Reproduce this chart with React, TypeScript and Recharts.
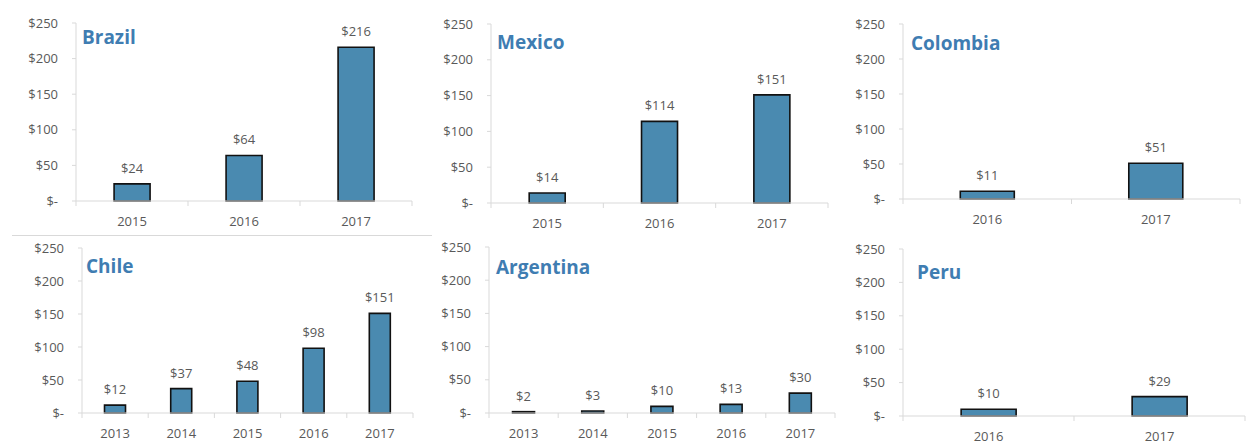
import { Bar, BarChart, LabelList, XAxis, YAxis } from "recharts";

const brazilYears = ["2015", "2016", "2017"];
const brazilValues = [24, 64, 216];
const mexicoYears = ["2015", "2016", "2017"];
const mexicoValues = [14, 114, 151];
const colombiaYears = ["2016", "2017"];
const colombiaValues = [11, 51];
const chileYears = ["2013", "2014", "2015", "2016", "2017"];
const chileValues = [12, 37, 48, 98, 151];
const argentinaYears = ["2013", "2014", "2015", "2016", "2017"];
const argentinaValues = [2, 3, 10, 13, 30];
const peruYears = ["2016", "2017"];
const peruValues = [10, 29];
const yTicks = [0, 50, 100, 150, 200, 250];

const FONT = "'Open Sans', sans-serif";
const TEXT = "#595959";
const AXIS = "#d9d9d9";
const BAR = "#4a8ab0";
const TITLE = "#3f7db2";

const Y_W = 60;
const TOP_PAD = 14;
const RIGHT_PAD = 6;
const BOTTOM_H = 32;

const money = (v: number) => (v === 0 ? "$-" : `$${v}`);

function YearTick(props: any) {
  const { x, y, payload, index, band, last } = props;
  return (
    <g>
      <line x1={x - band / 2} x2={x - band / 2} y1={y} y2={y + 5} stroke={AXIS} />
      {index === last && <line x1={x + band / 2} x2={x + band / 2} y1={y} y2={y + 5} stroke={AXIS} />}
      <text x={x} y={y + 25} textAnchor="middle" fill={TEXT} fontSize={13} fontFamily={FONT}>
        {payload.value}
      </text>
    </g>
  );
}

type PanelProps = {
  title: string;
  years: string[];
  values: number[];
  x0: number;
  x1: number;
  yTop: number;
  yBottom: number;
  titleX: number;
  titleY: number;
};

function Panel({ title, years, values, x0, x1, yTop, yBottom, titleX, titleY }: PanelProps) {
  const data = years.map((year, i) => ({ year, value: values[i] }));
  const band = (x1 - x0) / years.length;
  const width = x1 - x0 + Y_W + RIGHT_PAD;
  const height = yBottom - yTop + TOP_PAD + BOTTOM_H;
  return (
    <>
      <div style={{ position: "absolute", left: x0 - Y_W, top: yTop - TOP_PAD }}>
        <BarChart
          width={width}
          height={height}
          data={data}
          margin={{ top: TOP_PAD, right: RIGHT_PAD, bottom: 0, left: 0 }}
          barCategoryGap="34%"
        >
          <XAxis
            dataKey="year"
            height={BOTTOM_H}
            interval={0}
            axisLine={{ stroke: AXIS }}
            tickLine={false}
            tickSize={0}
            tickMargin={0}
            tick={<YearTick band={band} last={years.length - 1} />}
          />
          <YAxis
            width={Y_W}
            domain={[0, 250]}
            ticks={yTicks}
            interval={0}
            axisLine={{ stroke: AXIS }}
            tickLine={{ stroke: AXIS }}
            tickSize={4}
            tickMargin={14}
            tickFormatter={money}
            tick={{ fill: TEXT, fontSize: 13, fontFamily: FONT }}
          />
          <Bar dataKey="value" fill={BAR} stroke="#111" strokeWidth={1.6} isAnimationActive={false}>
            <LabelList
              dataKey="value"
              position="top"
              offset={11}
              formatter={(v: any) => `$${v}`}
              fill={TEXT}
              fontSize={13}
              fontFamily={FONT}
            />
          </Bar>
        </BarChart>
      </div>
      <div
        style={{
          position: "absolute",
          left: titleX,
          top: titleY - 13,
          lineHeight: "26px",
          fontFamily: FONT,
          fontWeight: 700,
          fontSize: 19,
          color: TITLE,
        }}
      >
        {title}
      </div>
    </>
  );
}

export default function App() {
  return (
    <div style={{ position: "absolute", left: 0, top: 0, width: 1249, height: 443, background: "#fff" }}>
      <div style={{ position: "absolute", left: 12, top: 235, width: 420, height: 1, background: AXIS }} />
      <Panel title="Brazil" years={brazilYears} values={brazilValues} x0={76} x1={412} yTop={23} yBottom={201} titleX={82} titleY={37} />
      <Panel title="Mexico" years={mexicoYears} values={mexicoValues} x0={491} x1={828} yTop={24} yBottom={203} titleX={497} titleY={42} />
      <Panel title="Colombia" years={colombiaYears} values={colombiaValues} x0={903} x1={1240} yTop={24} yBottom={199} titleX={911} titleY={43} />
      <Panel title="Chile" years={chileYears} values={chileValues} x0={82} x1={413} yTop={248} yBottom={413} titleX={86} titleY={266} />
      <Panel title="Argentina" years={argentinaYears} values={argentinaValues} x0={489} x1={835} yTop={247} yBottom={413} titleX={496} titleY={267} />
      <Panel title="Peru" years={peruYears} values={peruValues} x0={903} x1={1245} yTop={249} yBottom={416} titleX={917} titleY={272} />
    </div>
  );
}
